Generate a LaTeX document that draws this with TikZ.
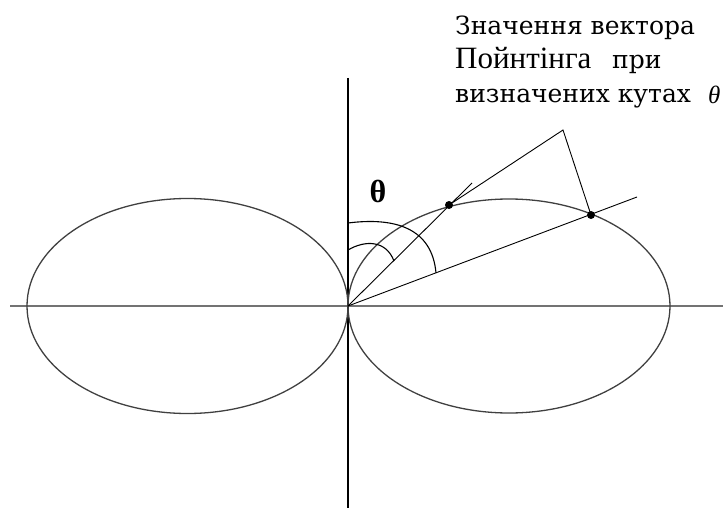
\documentclass[tikz,border=0pt]{standalone}
\usepackage{fontspec}
\setmainfont{Liberation Serif}
\newfontfamily\dvs{DejaVu Serif}
\begin{document}
\begin{tikzpicture}[x=1pt,y=-1pt,
  axisv/.style={line width=1.3pt,black},
  axish/.style={line width=1.8pt,black!55},
  lobe/.style={line width=1.3pt,black!75},
  ray/.style={line width=0.9pt,black},
  anglearc/.style={line width=1.1pt,black},
  dotmark/.style={circle,fill=black,inner sep=0pt,minimum size=8pt},
  lbl/.style={anchor=base west,inner sep=0pt,font=\dvs\fontsize{25}{29}\selectfont}]
\useasboundingbox (0,0) rectangle (723,508);
\coordinate (O) at (348,306);
\coordinate (hl) at (10,306);
\coordinate (hr) at (723,306);
\coordinate (vt) at (348,78);
\coordinate (vb) at (348,508);
\draw[axish] (hl) -- (hr);
\draw[axisv] (vt) -- (vb);
\draw[lobe] (187.5,306) ellipse [x radius=160.5, y radius=107.5];
\draw[lobe] (509,306) ellipse [x radius=161, y radius=107];
\coordinate (r1end) at (472,183);
\coordinate (r2end) at (637,197);
\coordinate (apex) at (563,130);
\node[dotmark] (d1) at (449,205) {};
\node[dotmark] (d2) at (591,215) {};
\draw[ray] (O) -- (r1end);
\draw[ray] (O) -- (r2end);
\draw[ray] (d1.center) -- (apex) -- (d2.center);
\coordinate (ia) at (348,250);
\coordinate (ib) at (394,261);
\coordinate (oa) at (348,223);
\coordinate (ob) at (436,273);
\draw[anglearc] (ia) .. controls (365,240) and (386,240) .. (ib);
\draw[anglearc] (oa) .. controls (395,217) and (432,228) .. (ob);
\node[font=\bfseries\fontsize{32}{32}\selectfont,inner sep=0pt] (th) at (378,191) {θ};
\node[lbl] (t1) at (455,35) {Значення вектора};
\node[lbl] (t2a) at (455,69) {\rmfamily\fontsize{31}{31}\selectfont Пойнтінга};
\node[lbl] (t2b) at (612,69) {при};
\node[lbl] (t3) at (455,103) {визначених кутах};
\node[anchor=base west,inner sep=0pt,font=\itshape\fontsize{25}{25}\selectfont] (t3th) at (708,104) {θ};
\end{tikzpicture}
\end{document}
